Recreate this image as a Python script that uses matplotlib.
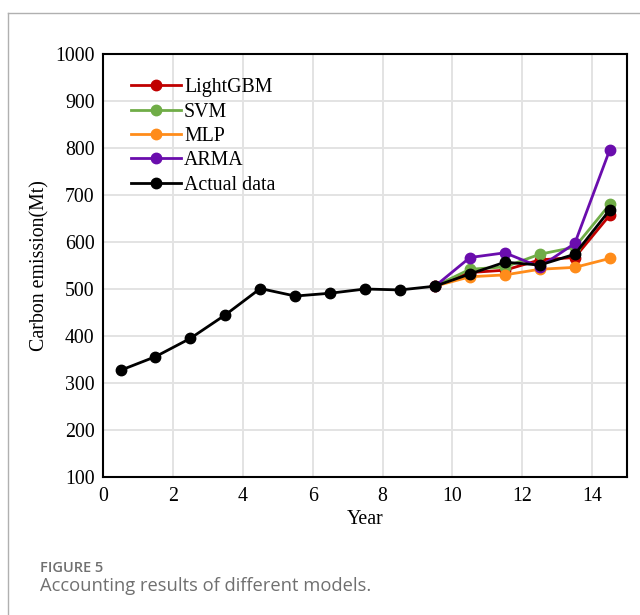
import matplotlib.pyplot as plt
from matplotlib.lines import Line2D

# year index (mid-points)
years_hist = [0.5, 1.5, 2.5, 3.5, 4.5, 5.5, 6.5, 7.5, 8.5, 9.5, 10.5, 11.5, 12.5, 13.5, 14.5]
actual = [327, 356, 395, 445, 501, 485, 491, 500, 498, 506, 532, 557, 551, 574, 668]

years_pred = [9.5, 10.5, 11.5, 12.5, 13.5, 14.5]
lightgbm = [506, 535, 540, 562, 567, 657]
svm = [506, 542, 547, 574, 589, 680]
mlp = [506, 526, 530, 542, 546, 565]
arma = [506, 567, 577, 547, 597, 796]

labels = ['LightGBM', 'SVM', 'MLP', 'ARMA', 'Actual data']
colors = ['#c00000', '#70ad47', '#ff8c1a', '#6a0dad', '#000000']

fig = plt.figure(figsize=(6.4, 6.15), dpi=100)
ax = fig.add_axes([0.161, 0.2244, 0.819, 0.6878])

serif = 'Liberation Serif'
fs = 14.3

series = [lightgbm, svm, mlp, arma]
for vals, c in zip(series, colors[:4]):
    ax.plot(years_pred, vals, color=c, lw=2, marker='o', ms=7.5, zorder=3)
ax.plot(years_hist, actual, color='black', lw=2, marker='o', ms=7.5, zorder=4)

ax.set_xlim(0, 15)
ax.set_ylim(100, 1000)
ax.set_xticks(range(0, 15, 2))
ax.set_yticks(range(100, 1001, 100))
ax.grid(True, color='#e3e3e3', lw=1.4)
ax.set_axisbelow(True)
ax.tick_params(axis='x', length=0, labelsize=fs, pad=7)
ax.tick_params(axis='y', length=0, labelsize=fs, pad=6)
for lab in ax.get_xticklabels() + ax.get_yticklabels():
    lab.set_family(serif)
for s in ax.spines.values():
    s.set_linewidth(1.5)
ax.set_xlabel('Year', family=serif, fontsize=fs, labelpad=3)
ax.set_ylabel('Carbon emission(Mt)', family=serif, fontsize=fs, labelpad=4)

handles = [Line2D([], [], color=c, lw=2, marker='o', ms=7.5) for c in colors]
leg = ax.legend(handles, labels, loc='upper left', bbox_to_anchor=(0.02, 0.985),
                frameon=False, prop={'family': serif, 'size': fs},
                handlelength=2.5, handletextpad=0.15, labelspacing=0.27)

# card frame
fig.add_artist(Line2D([8 / 640, 1], [1 - 13 / 615, 1 - 13 / 615], color='#b0b0b0', lw=1))
fig.add_artist(Line2D([8 / 640, 8 / 640], [0, 1 - 13 / 615], color='#b0b0b0', lw=1))

fig.text(40 / 640, 1 - 568 / 615, 'FIGURE 5', family='Open Sans', fontsize=10.5,
         fontweight='semibold', color='#707070', va='center')
fig.text(40 / 640, 1 - 586 / 615, 'Accounting results of different models.',
         family='Open Sans', fontsize=13.2, color='#707070', va='center')

fig.savefig('out.png', dpi=100)
